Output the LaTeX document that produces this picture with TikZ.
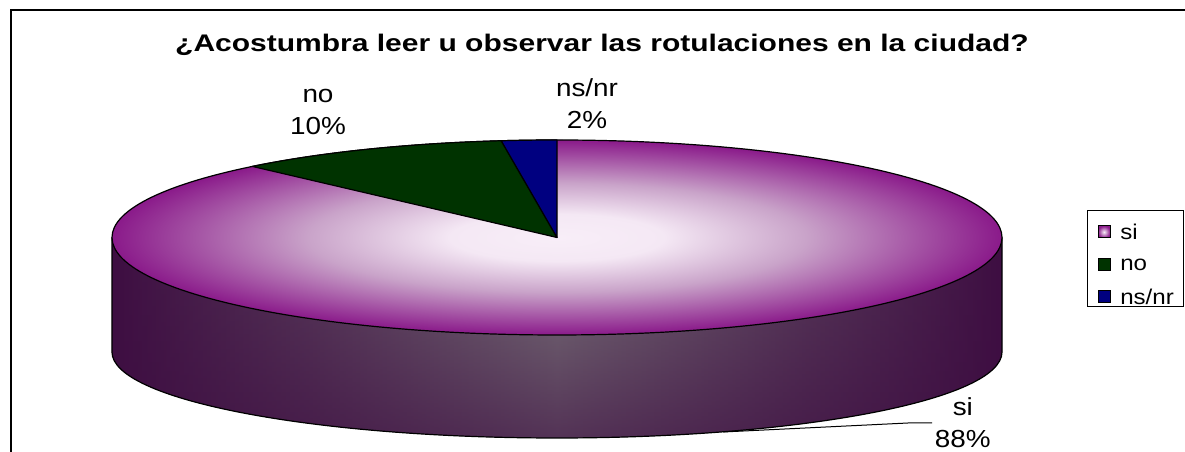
\documentclass[tikz,border=0pt]{standalone}
\usepackage{fontspec}
\setmainfont{Liberation Sans}
\newfontfamily\titlefont[FakeStretch=1.25]{Liberation Sans}
\newfontfamily\labelfont[FakeStretch=1.13]{Liberation Sans}
\usetikzlibrary{fadings}
\definecolor{siouter}{HTML}{8A1A8A}
\definecolor{simid}{HTML}{C9A3C9}
\definecolor{silight}{HTML}{F8EEF8}
\definecolor{sideedge}{HTML}{3E0E42}
\definecolor{sidemid}{HTML}{7C787C}
\definecolor{nogreen}{HTML}{003300}
\definecolor{nsblue}{HTML}{000080}
\pgfdeclareradialshading{pietop}{\pgfpoint{0bp}{0bp}}{color(0bp)=(silight); color(6bp)=(silight!92!simid); color(14bp)=(simid); color(20bp)=(simid!45!siouter); color(25bp)=(siouter); color(50bp)=(siouter)}
\pgfdeclarehorizontalshading{pieside}{100bp}{color(0bp)=(sideedge); color(25bp)=(sideedge); color(36bp)=(sideedge!60!sidemid); color(50bp)=(sidemid); color(64bp)=(sideedge!60!sidemid); color(75bp)=(sideedge); color(100bp)=(sideedge)}
\tikzfading[name=sidefade, bottom color=transparent!0, middle color=transparent!100, top color=transparent!100]

\begin{document}
\begin{tikzpicture}[x=0.75pt,y=0.75pt,
    pieedge/.style={draw=black,line width=0.9pt,line join=round},
    pielabel/.style={font=\labelfont\fontsize{18.5}{24}\selectfont,align=center,inner sep=2pt},
    legkey/.style={draw=black,line width=0.75pt,minimum size=9pt,inner sep=0pt},
    legtext/.style={font=\labelfont\fontsize{16}{19}\selectfont,anchor=west,inner sep=0pt}]
  \useasboundingbox (0,0) rectangle (1185,452);
  % frame and title
  \draw[line width=1.3pt] (11,-20) |- (1200,442);
  \node[font=\titlefont\bfseries\fontsize{18}{22}\selectfont] (title) at (602,407) {¿Acostumbra leer u observar las rotulaciones en la ciudad?};
  % side of the pie
  \coordinate (c) at (557,214.5);
  \path[shading=pieside] (112,214.5) -- (112,100) arc[start angle=180,end angle=360,x radius=445,y radius=86] -- (1002,214.5) arc[start angle=0,end angle=-180,x radius=445,y radius=97.5] -- cycle;
  \fill[sideedge,fill opacity=0.65,path fading=sidefade] (112,214.5) -- (112,100) arc[start angle=180,end angle=360,x radius=445,y radius=86] -- (1002,214.5) arc[start angle=0,end angle=-180,x radius=445,y radius=97.5] -- cycle;
  \draw[pieedge] (112,214.5) -- (112,100) arc[start angle=180,end angle=360,x radius=445,y radius=86] -- (1002,214.5);
  % top of the pie
  \path[shading=pietop] (c) ellipse[x radius=445,y radius=97.5];
  \draw[pieedge] (c) ellipse[x radius=445,y radius=97.5];
  \filldraw[pieedge,fill=nogreen] (c) -- ++(133.2:445 and 97.5) arc[start angle=133.2,end angle=97.2,x radius=445,y radius=97.5] -- cycle;
  \filldraw[pieedge,fill=nsblue] (c) -- ++(97.2:445 and 97.5) arc[start angle=97.2,end angle=90,x radius=445,y radius=97.5] -- cycle;
  % labels
  \node[pielabel] (nolbl) at (318,340) {no\\10\%};
  \node[pielabel] (nslbl) at (587,348) {ns/nr\\2\%};
  \coordinate (silead) at (723,20);
  \coordinate (sibend) at (908,29);
  \node[pielabel,anchor=west] (silbl) at (932,29) {si\\88\%};
  \draw[line width=0.75pt] (silead) -- (sibend) -- (silbl.west);
  % legend
  \node[draw,line width=0.75pt,minimum width=72pt,minimum height=72pt,inner sep=0pt] (legend) at (1135,193) {};
  \node[legkey,inner color=silight,outer color=siouter] (keysi) at (1104,220) {};
  \node[legkey,fill=nogreen] (keyno) at (1104,187) {};
  \node[legkey,fill=nsblue] (keyns) at (1104,155) {};
  \node[legtext] (txtsi) at (1120,220) {si};
  \node[legtext] (txtno) at (1120,187) {no};
  \node[legtext] (txtns) at (1120,155) {ns/nr};
\end{tikzpicture}
\end{document}
